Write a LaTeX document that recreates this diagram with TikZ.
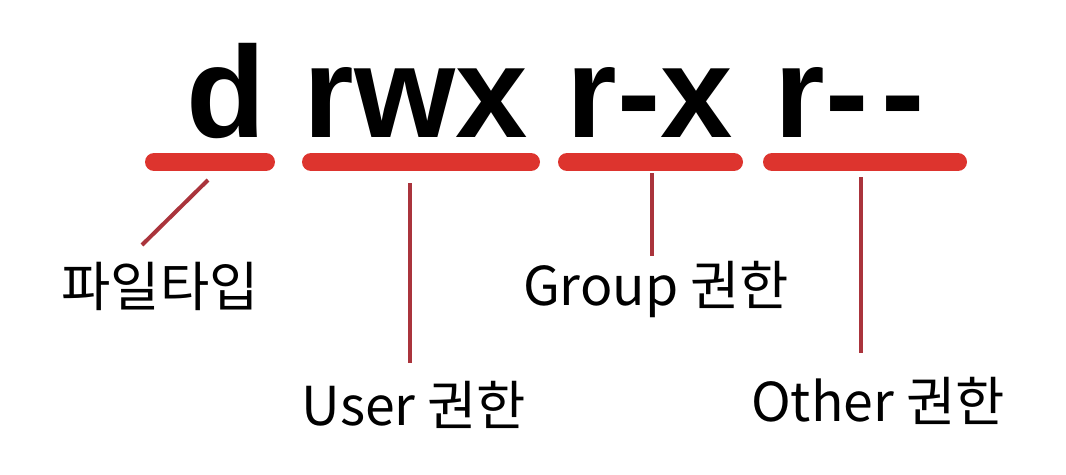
\documentclass[tikz,border=0pt]{standalone}
\usepackage{fontspec}
\setmainfont{Liberation Sans}
\newfontfamily\krfont{Noto Sans CJK KR}
\usepackage{xcolor}
\usetikzlibrary{positioning}

\definecolor{barred}{RGB}{221,52,46}
\definecolor{linered}{RGB}{170,52,60}

\begin{document}
\begin{tikzpicture}[
    x=0.02cm, y=-0.02cm,
    perm/.style={anchor=base, inner sep=0pt, font=\fontsize{74}{80}\selectfont\bfseries},
    bar/.style={line width=0.36cm, line cap=round, barred},
    link/.style={line width=0.08cm, linered},
    tag/.style={anchor=base, inner sep=0pt, font=\fontsize{30.5}{36}\selectfont\krfont}
]
    \useasboundingbox (0,0) rectangle (1066,474);

    % permission string
    \node[perm] (ftype) at (226,137) {d};
    \node[perm] (user) at (416,137) {rwx};
    \node[perm] (group) at (650,137) {r-x};
    \node[perm] (other) at (850,137) {r-\kern0.1em-};

    % underline bars
    \draw[bar] (154,162) coordinate (b1l) -- (266,162) coordinate (b1r);
    \draw[bar] (311,162) coordinate (b2l) -- (531,162) coordinate (b2r);
    \draw[bar] (567,162) coordinate (b3l) -- (734,162) coordinate (b3r);
    \draw[bar] (772,162) coordinate (b4l) -- (958,162) coordinate (b4r);

    % labels
    \node[tag] (ftypetag) at (160,306) {파일타입};
    \node[tag] (usertag) at (414,425) {User 권한};
    \node[tag] (grouptag) at (656,305) {Group 권한};
    \node[tag] (othertag) at (878,421) {Other 권한};

    \coordinate (c1a) at (208,180);
    \coordinate (c1b) at (142,245);
    \coordinate (c2a) at (410,183);
    \coordinate (c2b) at (410,363);
    \coordinate (c3a) at (652,173);
    \coordinate (c3b) at (652,256);
    \coordinate (c4a) at (861,177);
    \coordinate (c4b) at (861,353);

    \draw[link] (c1a) -- (c1b);
    \draw[link] (c2a) -- (c2b);
    \draw[link] (c3a) -- (c3b);
    \draw[link] (c4a) -- (c4b);
\end{tikzpicture}
\end{document}
